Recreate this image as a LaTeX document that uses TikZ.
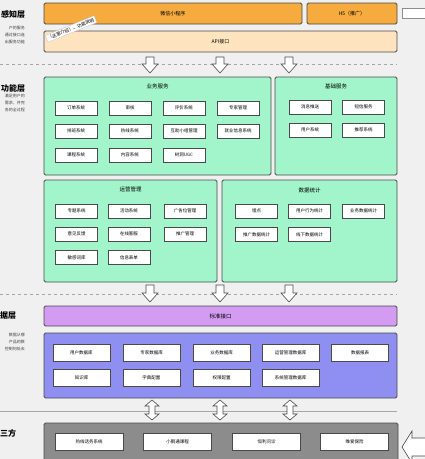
\documentclass[tikz,border=0pt]{standalone}
\usepackage{fontspec}
\setmainfont{Noto Sans CJK SC}
\definecolor{hintergrund}{HTML}{F0F0F0}
\definecolor{randfarbe}{HTML}{4A4A4A}
\definecolor{orangeDunkel}{HTML}{F5AB3E}
\definecolor{orangeHell}{HTML}{FDE4BF}
\definecolor{minze}{HTML}{A2F5CB}
\definecolor{lila}{HTML}{D49BF2}
\definecolor{violett}{HTML}{8F8FF2}
\definecolor{grau}{HTML}{8C8C8C}
\tikzset{
    box/.style={draw=randfarbe, line width=0.8pt, rounded corners=1.5pt, inner sep=0pt},
    item/.style={draw=randfarbe, line width=0.7pt, fill=white, minimum width=42, minimum height=14, inner sep=0pt, font=\fontsize{4.5}{5}\selectfont},
    titel/.style={font=\fontsize{5.5}{6}\selectfont},
    schicht/.style={font=\fontsize{8}{9}\selectfont\bfseries, anchor=west, inner sep=0pt},
    notiz/.style={font=\fontsize{4}{7}\selectfont, align=right, anchor=north east, inner sep=0pt, text=black!75},
    pfeil/.style={draw=black!70, fill=white, line width=0.6pt, line join=miter}
}
\begin{document}
\begin{tikzpicture}[x=1pt,y=-1pt]
        \useasboundingbox (0,0) rectangle (425,459);
        \clip (0,0) rectangle (425,459);
        \fill[hintergrund] (0,0) rectangle (425,459);

        % Linke Beschriftung
        \node[schicht] (lSensor) at (1,14) {感知层};
        \node[notiz] (nSensor) at (25,26) {户的服务\\通过接口连\\出服务功能};
        \node[schicht] (lFunktion) at (1,88) {功能层};
        \node[notiz] (nFunktion) at (25,94) {满足用户的\\需求，并完\\务的全过程};
        \node[schicht] (lDaten) at (0,316) {据层};
        \node[notiz] (nDaten) at (25,333) {数据从哪\\产品的数\\控制何处去};
        \node[schicht] (lDritte) at (0,433) {三方};

        % Sensorschicht
        \node[box, fill=orangeDunkel, minimum width=258, minimum height=21, font=\fontsize{5}{6}\selectfont] (wx) at (173,13.5) {微信小程序};
        \node[box, fill=orangeDunkel, minimum width=90, minimum height=21, font=\fontsize{5}{6}\selectfont] (h5) at (352,13.5) {H5（推广）};
        \draw[grau, fill=white] (402,8) rectangle (430,18);
        \node[box, fill=orangeHell, minimum width=353, minimum height=21, font=\fontsize{5}{6}\selectfont] (api) at (220.5,41.5) {API接口};
        \node[draw=black!20, fill=white, rotate=22, inner sep=1.5pt, font=\fontsize{4.5}{5}\selectfont] (hinweis) at (71,29) {（这里介绍）、功能说明};

        \draw[gray!70, dashed, thin] (0,64) -- (397,64);
        \foreach \x in {150,220,289} {
            \draw[pfeil] (\x-4,57) -- (\x+4,57) -- (\x+4,64) -- (\x+8,64) -- (\x,73) -- (\x-8,64) -- (\x-4,64) -- cycle;
        }

        % Funktionsschicht
        \node[box, fill=minze, minimum width=227, minimum height=98] (yewu) at (157.5,126) {};
        \node[titel] (tYewu) at (157.5,86) {业务服务};
        \foreach \t/\x/\y [count=\i] in {订单系统/76/108, 审核/130/108, 评价系统/184/108, 专家管理/238/108,
                排班系统/76/131, 热线系统/130/131, 互助小组管理/184/131, 就业信息系统/238/131,
                课程系统/76/155, 内容系统/130/155, 树洞UGC/184/155} {
            \node[item] (yw\i) at (\x,\y) {\t};
        }
        \node[box, fill=minze, minimum width=122, minimum height=98] (jichu) at (336,126) {};
        \node[titel] (tJichu) at (336,86) {基础服务};
        \foreach \t/\x/\y [count=\i] in {消息推送/310/107, 短信服务/363.5/107, 用户系统/310/130, 推荐系统/363.5/130} {
            \node[item] (jc\i) at (\x,\y) {\t};
        }
        \node[box, fill=minze, minimum width=173, minimum height=102] (yunying) at (130.5,231) {};
        \node[titel] (tYunying) at (130.5,189) {运营管理};
        \foreach \t/\x/\y [count=\i] in {专题系统/76.5/211, 活动系统/129/211, 广告位管理/185/211,
                意见反馈/76.5/234, 在线客服/129/234, 推广管理/185/234,
                敏感词库/76.5/257.5, 信息表单/129/257.5} {
            \node[item] (yy\i) at (\x,\y) {\t};
        }
        \node[box, fill=minze, minimum width=175, minimum height=102] (tongji) at (309.5,231) {};
        \node[titel] (tTongji) at (309.5,190) {数据统计};
        \foreach \t/\x/\y [count=\i] in {埋点/256.5/211, 用户行为统计/309.5/211, 业务数据统计/363.5/211,
                推广数据统计/256.5/234.5, 线下数据统计/309.5/234.5} {
            \node[item] (tj\i) at (\x,\y) {\t};
        }

        \draw[gray!70, dashed, thin] (0,294) -- (397,294);
        \foreach \x in {150,220,289} {
            \draw[pfeil] (\x-4,285) -- (\x+4,285) -- (\x+4,293) -- (\x+8,293) -- (\x,302) -- (\x-8,293) -- (\x-4,293) -- cycle;
        }

        % Datenschicht
        \node[box, fill=lila, minimum width=353, minimum height=20, font=\fontsize{5.5}{6}\selectfont] (norm) at (220.5,316) {标准接口};
        \node[box, fill=violett, minimum width=353, minimum height=65] (daten) at (220.5,365.5) {};
        \foreach \t/\x/\y [count=\i] in {用户数据库/81.5/352.5, 专家数据库/151.5/352.5, 业务数据库/221.5/352.5, 运营管理数据库/290.5/352.5, 数据报表/360/352.5,
                知识库/81.5/377.5, 字典配置/151.5/377.5, 权限配置/221.5/377.5, 系统管理数据库/290.5/377.5} {
            \node[item, minimum width=57, minimum height=17] (db\i) at (\x,\y) {\t};
        }

        \draw[gray!70, thin] (0,411) -- (397,411);
        \foreach \x in {152,220,290} {
            \draw[pfeil] (\x,400) -- (\x+7,406) -- (\x+3,406) -- (\x+3,414) -- (\x+7,414) -- (\x,420)
                -- (\x-7,414) -- (\x-3,414) -- (\x-3,406) -- (\x-7,406) -- cycle;
        }

        % Drittanbieter
        \node[box, fill=grau, minimum width=354, minimum height=50] (dritte) at (221,448) {};
        \foreach \t/\x [count=\i] in {热线话务系统/89, 小鹅通课程/177.5, 恒利问诊/266.5, 唯爱保险/354.5} {
            \node[item, minimum width=68, minimum height=17] (dr\i) at (\x,441.5) {\t};
        }
        \draw[pfeil] (402,447) -- (412,431) -- (412,438) -- (432,438) -- (432,456) -- (412,456) -- (412,463) -- cycle;
    \end{tikzpicture}
\end{document}
